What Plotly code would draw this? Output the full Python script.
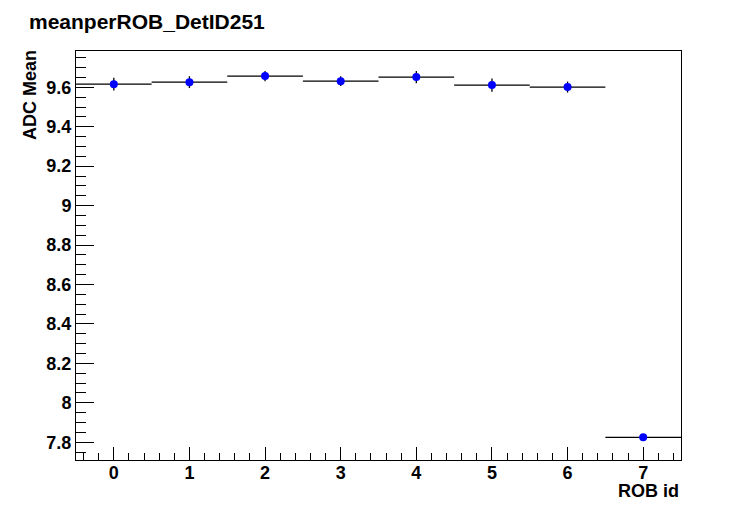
import plotly.graph_objects as go

rob_id = [0, 1, 2, 3, 4, 5, 6, 7]
adc_mean = [9.616, 9.626, 9.657, 9.631, 9.652, 9.611, 9.601, 7.825]
adc_err = [0.032, 0.030, 0.026, 0.025, 0.031, 0.034, 0.028, 0.008]
bin_half_width = [0.5] * 8

FONT = "Liberation Sans"

fig = go.Figure()
fig.add_trace(go.Scatter(
    x=rob_id, y=adc_mean, mode="markers",
    marker=dict(color="#0000ff", size=8, symbol="circle"),
    error_y=dict(type="data", array=adc_err, visible=True, color="black", thickness=1.3, width=0),
    error_x=dict(type="data", array=bin_half_width, visible=True, color="black", thickness=1.3, width=0),
    showlegend=False,
))

# page body adds an 8px offset; work in figure coordinates
OFF = 8
W, H = 756, 511
L, R, T, B = 76 - OFF, 681 - OFF, 51 - OFF, 460 - OFF

fig.update_layout(
    width=W, height=H,
    paper_bgcolor="white", plot_bgcolor="white",
    margin=dict(l=L, r=W - R, t=T, b=H - B, pad=0),
    font=dict(family=FONT, color="black"),
    xaxis=dict(range=[-0.5, 7.5], showgrid=False, zeroline=False,
               showline=True, linecolor="black", linewidth=1, mirror=True,
               ticks="inside", ticklen=13, tickwidth=1, tickcolor="black",
               tick0=0, dtick=1, ticklabelstandoff=-4,
               tickfont=dict(family=FONT, size=18, weight="bold", color="black"),
               minor=dict(ticks="inside", ticklen=7, tickwidth=1, tickcolor="black", dtick=0.2, tick0=0)),
    yaxis=dict(range=[7.710, 9.784], showgrid=False, zeroline=False,
               showline=True, linecolor="black", linewidth=1, mirror=True,
               ticks="inside", ticklen=18, tickwidth=1, tickcolor="black",
               tick0=0, dtick=0.2, tickformat="~g",
               tickfont=dict(family=FONT, size=18, weight="bold", color="black"),
               minor=dict(ticks="inside", ticklen=10, tickwidth=1, tickcolor="black", dtick=0.05, tick0=0)),
    annotations=[
        dict(text="meanperROB_DetID251", xref="paper", yref="paper",
             x=(27 - OFF - L) / (R - L), y=B / (B - T), xanchor="left", yanchor="top",
             showarrow=False, font=dict(family=FONT, size=21, weight="bold", color="black")),
        dict(text="ADC Mean", textangle=-90, xref="paper", yref="paper",
             x=(30 - OFF - L) / (R - L), y=(B - (48 - OFF)) / (B - T), xanchor="center", yanchor="top",
             showarrow=False, font=dict(family=FONT, size=18, weight="bold", color="black")),
        dict(text="ROB id", xref="paper", yref="paper",
             x=1, y=(B - (491 - OFF)) / (B - T), xanchor="right", yanchor="middle",
             showarrow=False, font=dict(family=FONT, size=18, weight="bold", color="black")),
    ],
)

fig.write_html("out.html")
